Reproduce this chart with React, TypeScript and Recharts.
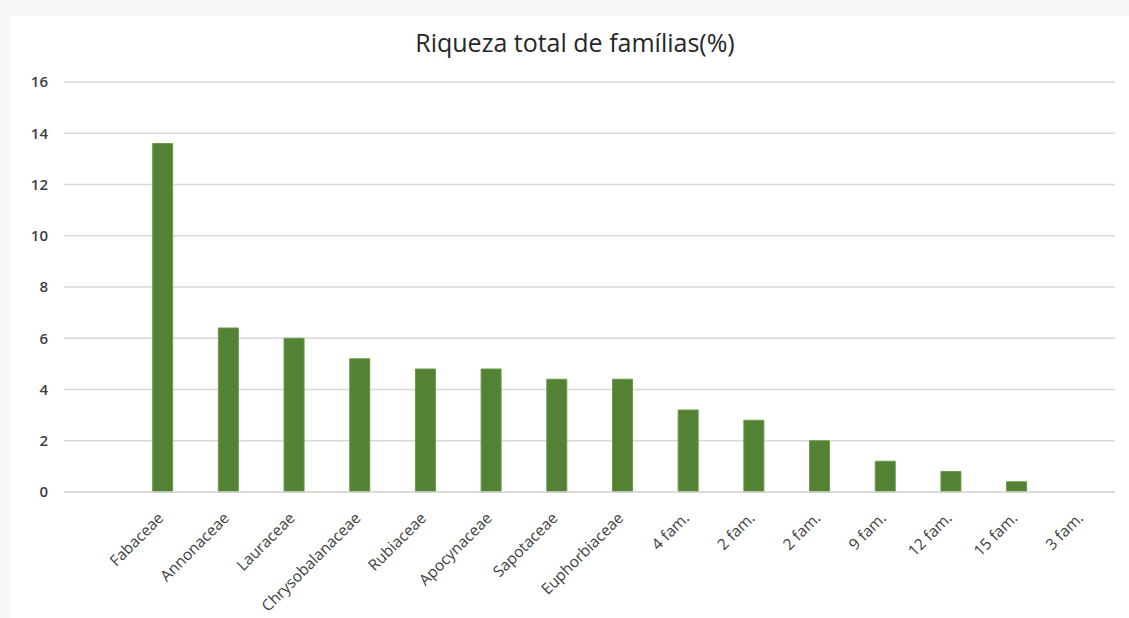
import React from 'react';
import { BarChart, Bar, XAxis, YAxis, CartesianGrid } from 'recharts';

// first slot is empty in the original chart
const familias = ['', 'Fabaceae', 'Annonaceae', 'Lauraceae', 'Chrysobalanaceae', 'Rubiaceae', 'Apocynaceae', 'Sapotaceae', 'Euphorbiaceae', '4 fam.', '2 fam.', '2 fam.', '9 fam.', '12 fam.', '15 fam.', '3 fam.'];
const riqueza = [null, 13.6, 6.4, 6.0, 5.2, 4.8, 4.8, 4.4, 4.4, 3.2, 2.8, 2.0, 1.2, 0.8, 0.4, 0];
const yTicks = [0, 2, 4, 6, 8, 10, 12, 14, 16];

const data = familias.map((name, i) => ({ name, key: `c${i}`, valor: riqueza[i] }));

const FONT = '"Open Sans", sans-serif';

const AngledTick = (props: any) => {
  const { x, y, payload } = props;
  const label = familias[payload.index] ?? '';
  return (
    <g transform={`translate(${x + 2},${y + 19})`}>
      <text
        x={0}
        y={0}
        textAnchor="end"
        transform="rotate(-45)"
        fontFamily={FONT}
        fontSize={15.5}
        fontWeight={500}
        fill="#404040"
      >
        {label}
      </text>
    </g>
  );
};

const App: React.FC = () => {
  return (
    <div style={{ position: 'fixed', left: 0, top: 0, width: 1129, height: 618, background: '#f7f7f7' }}>
      <div style={{ position: 'absolute', left: 10, top: 16, width: 1119, height: 602, background: '#ffffff' }} />
      <div
        style={{
          position: 'absolute',
          left: 0,
          top: 25,
          width: 1150,
          textAlign: 'center',
          fontFamily: FONT,
          fontSize: 25,
          color: '#262626',
        }}
      >
        Riqueza total de famílias(%)
      </div>
      <div style={{ position: 'absolute', left: 0, top: 0 }}>
        <BarChart
          width={1129}
          height={618}
          data={data}
          margin={{ top: 82, right: 14, bottom: 0, left: 0 }}
          barCategoryGap="35%"
        >
          <CartesianGrid vertical={false} stroke="#d9d9d9" strokeWidth={1.5} />
          <XAxis
            dataKey="key"
            interval={0}
            axisLine={{ stroke: '#d9d9d9', strokeWidth: 1.5 }}
            tickLine={false}
            height={126}
            tick={<AngledTick />}
          />
          <YAxis
            domain={[0, 16]}
            ticks={yTicks}
            interval={0}
            width={64}
            axisLine={false}
            tickLine={false}
            tickSize={0}
            tickMargin={16}
            tick={{ fontFamily: FONT, fontSize: 15, fontWeight: 600, fill: '#404040' }}
          />
          <Bar dataKey="valor" fill="#548235" stroke="#6a9a4a" strokeWidth={1} isAnimationActive={false} />
        </BarChart>
      </div>
    </div>
  );
};

export default App;
